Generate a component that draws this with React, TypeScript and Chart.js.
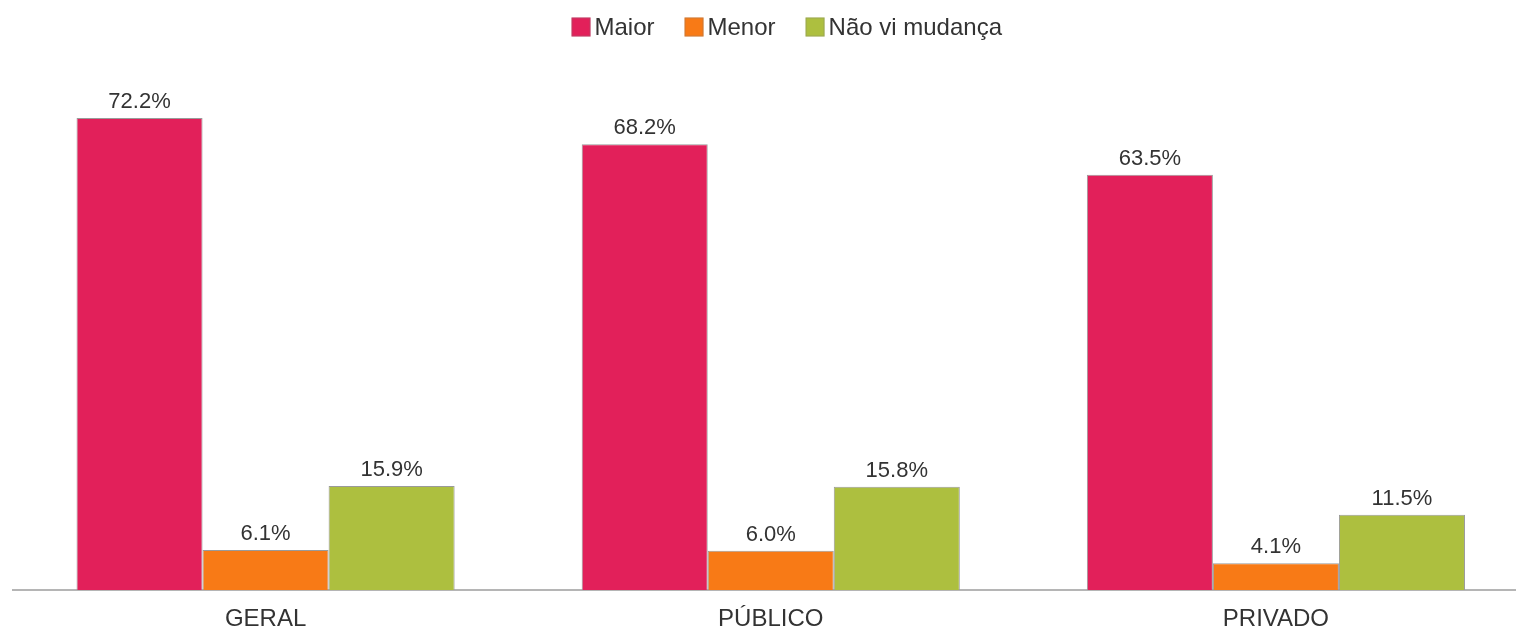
import React, { useEffect, useRef } from "react";
import { Chart, registerables } from "chart.js";

Chart.register(...registerables);

const categories = ["GERAL", "PÚBLICO", "PRIVADO"];
const seriesNames = ["Maior", "Menor", "Não vi mudança"];
const maiorValues = [72.2, 68.2, 63.5];
const menorValues = [6.1, 6.0, 4.1];
const semMudancaValues = [15.9, 15.8, 11.5];
const seriesColors = ["#E2205A", "#F87A16", "#ADBF3F"];

const FONT = "'Liberation Sans', Arial, sans-serif";

const valueLabels = {
  id: "valueLabels",
  afterDatasetsDraw(chart: any) {
    const ctx = chart.ctx;
    ctx.save();
    ctx.font = `22px ${FONT}`;
    ctx.fillStyle = "#333333";
    ctx.textAlign = "center";
    ctx.textBaseline = "alphabetic";
    chart.data.datasets.forEach((ds: any, i: number) => {
      const meta = chart.getDatasetMeta(i);
      meta.data.forEach((bar: any, j: number) => {
        const v = ds.data[j];
        ctx.fillText(v.toFixed(1) + "%", bar.x, bar.y - 10);
      });
    });
    ctx.restore();
  },
};

// Legend drawn on the canvas: square, small gap, label; items centred above the plot.
const topLegend = {
  id: "topLegend",
  afterDraw(chart: any) {
    const ctx = chart.ctx;
    const box = 19;
    const gap = 4;
    const spacing = 30;
    ctx.save();
    ctx.font = `24px ${FONT}`;
    const items = chart.data.datasets.map((ds: any) => ({
      text: ds.label,
      color: ds.backgroundColor,
      w: box + gap + ctx.measureText(ds.label).width,
    }));
    const total = items.reduce((a: number, it: any) => a + it.w, 0) + spacing * (items.length - 1);
    const center = (chart.chartArea.left + chart.chartArea.right) / 2 + 16;
    let x = center - total / 2;
    const cy = 27;
    items.forEach((it: any) => {
      ctx.fillStyle = it.color;
      ctx.fillRect(x, cy - box / 2, box, box);
      ctx.strokeStyle = "rgba(120,120,120,0.35)";
      ctx.lineWidth = 1;
      ctx.strokeRect(x + 0.5, cy - box / 2 + 0.5, box - 1, box - 1);
      ctx.fillStyle = "#333333";
      ctx.textAlign = "left";
      ctx.textBaseline = "middle";
      ctx.fillText(it.text, x + box + gap, cy + 1);
      x += it.w + spacing;
    });
    ctx.restore();
  },
};

export default function App() {
  const ref = useRef<HTMLCanvasElement | null>(null);
  useEffect(() => {
    if (!ref.current) return;
    const chart = new Chart(ref.current, {
      type: "bar",
      data: {
        labels: categories,
        datasets: [maiorValues, menorValues, semMudancaValues].map((d, i) => ({
          label: seriesNames[i],
          data: d,
          backgroundColor: seriesColors[i],
          borderColor: "#9a9a9a",
          borderWidth: 1,
          barPercentage: 1,
          categoryPercentage: 0.7485,
        })),
      },
      options: {
        animation: false,
        responsive: true,
        maintainAspectRatio: false,
        layout: { padding: { left: 13, right: 1.5, top: 67, bottom: 0 } },
        plugins: {
          legend: { display: false },
          tooltip: { enabled: false },
        },
        scales: {
          x: {
            grid: { display: false, drawTicks: false },
            border: { display: true, color: "#b5b5b5", width: 2 },
            ticks: { font: { family: FONT, size: 24 }, color: "#333333", padding: 15 },
            afterFit: (s: any) => {
              s.height = 39;
            },
          },
          y: {
            display: false,
            min: 0,
            max: 80,
          },
        },
      },
      plugins: [valueLabels, topLegend],
    });
    return () => chart.destroy();
  }, []);
  return (
    <div style={{ position: "fixed", left: 0, top: 0, width: 1530, height: 629, background: "#fff" }}>
      <canvas ref={ref} />
    </div>
  );
}
